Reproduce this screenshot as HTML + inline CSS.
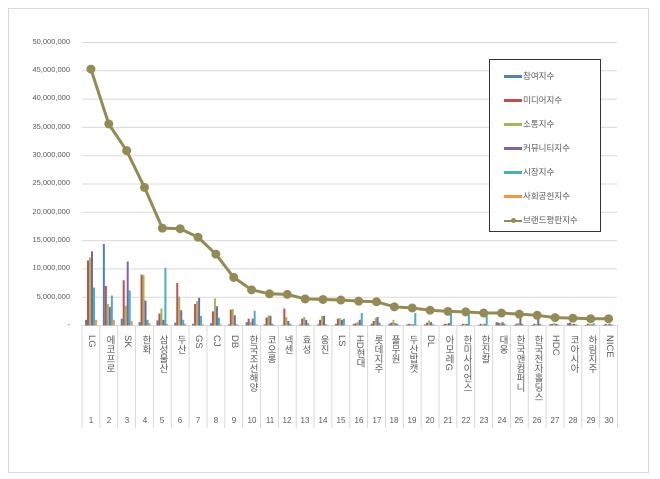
<!DOCTYPE html>
<html><head><meta charset="utf-8"><style>
body{margin:0;background:#fff;width:660px;height:479px;overflow:hidden;position:relative;font-family:"Liberation Sans","Noto Sans CJK KR",sans-serif;}
.fr{position:absolute;left:8px;top:8px;width:639px;height:463px;border:1px solid #d9d9d9;}
.yl{position:absolute;right:590px;font-size:7.5px;color:#595959;text-align:right;width:80px}
.cl{position:absolute;top:335px;width:18px;writing-mode:vertical-rl;text-orientation:mixed;font-size:9.5px;color:#595959;line-height:18px;text-align:left}
.nl{position:absolute;top:416px;width:18px;text-align:center;font-size:8px;color:#595959}
.lg{position:absolute;left:489px;top:59px;width:110px;height:171px;border:1px solid #333;background:#fff}
.li{position:absolute;left:14px;font-size:8.5px;color:#595959;height:12px;line-height:12px}
.li i{display:inline-block;width:18px;height:3px;vertical-align:middle;margin-right:1px}
</style></head><body>
<div class="fr"></div>
<svg width="660" height="479" style="position:absolute;left:0;top:0" id="s"></svg>
<div class="yl" style="top:37px">50,000,000</div>
<div class="yl" style="top:65px">45,000,000</div>
<div class="yl" style="top:93px">40,000,000</div>
<div class="yl" style="top:122px">35,000,000</div>
<div class="yl" style="top:150px">30,000,000</div>
<div class="yl" style="top:178px">25,000,000</div>
<div class="yl" style="top:207px">20,000,000</div>
<div class="yl" style="top:235px">15,000,000</div>
<div class="yl" style="top:263px">10,000,000</div>
<div class="yl" style="top:292px">5,000,000</div>
<div class="yl" style="top:320px">-</div>
<div class="cl" style="left:82px">LG</div>
<div class="cl" style="left:100px">에코프로</div>
<div class="cl" style="left:118px">SK</div>
<div class="cl" style="left:136px">한화</div>
<div class="cl" style="left:153px">삼성물산</div>
<div class="cl" style="left:171px">두산</div>
<div class="cl" style="left:189px">GS</div>
<div class="cl" style="left:207px">CJ</div>
<div class="cl" style="left:225px">DB</div>
<div class="cl" style="left:243px">한국조선해양</div>
<div class="cl" style="left:261px">코오롱</div>
<div class="cl" style="left:278px">넥센</div>
<div class="cl" style="left:296px">효성</div>
<div class="cl" style="left:314px">웅진</div>
<div class="cl" style="left:332px">LS</div>
<div class="cl" style="left:350px">HD현대</div>
<div class="cl" style="left:368px">롯데지주</div>
<div class="cl" style="left:385px">풀무원</div>
<div class="cl" style="left:403px">두산밥캣</div>
<div class="cl" style="left:421px">DL</div>
<div class="cl" style="left:439px">아모레G</div>
<div class="cl" style="left:457px">한미사이언스</div>
<div class="cl" style="left:475px">한진칼</div>
<div class="cl" style="left:493px">대웅</div>
<div class="cl" style="left:510px">한국앤컴퍼니</div>
<div class="cl" style="left:528px">한국전자홀딩스</div>
<div class="cl" style="left:546px">HDC</div>
<div class="cl" style="left:564px">코아시아</div>
<div class="cl" style="left:582px">하림지주</div>
<div class="cl" style="left:600px">NICE</div>
<div class="nl" style="left:82px">1</div><div class="nl" style="left:100px">2</div><div class="nl" style="left:118px">3</div><div class="nl" style="left:136px">4</div><div class="nl" style="left:153px">5</div><div class="nl" style="left:171px">6</div><div class="nl" style="left:189px">7</div><div class="nl" style="left:207px">8</div><div class="nl" style="left:225px">9</div><div class="nl" style="left:243px">10</div><div class="nl" style="left:261px">11</div><div class="nl" style="left:278px">12</div><div class="nl" style="left:296px">13</div><div class="nl" style="left:314px">14</div><div class="nl" style="left:332px">15</div><div class="nl" style="left:350px">16</div><div class="nl" style="left:368px">17</div><div class="nl" style="left:385px">18</div><div class="nl" style="left:403px">19</div><div class="nl" style="left:421px">20</div><div class="nl" style="left:439px">21</div><div class="nl" style="left:457px">22</div><div class="nl" style="left:475px">23</div><div class="nl" style="left:493px">24</div><div class="nl" style="left:510px">25</div><div class="nl" style="left:528px">26</div><div class="nl" style="left:546px">27</div><div class="nl" style="left:564px">28</div><div class="nl" style="left:582px">29</div><div class="nl" style="left:600px">30</div>
<div class="lg">
<div class="li" style="top:10px"><i style="background:#4F81BD"></i>참여지수</div>
<div class="li" style="top:34px"><i style="background:#C0504D"></i>미디어지수</div>
<div class="li" style="top:58px"><i style="background:#9BBB59"></i>소통지수</div>
<div class="li" style="top:82px"><i style="background:#8064A2"></i>커뮤니티지수</div>
<div class="li" style="top:106px"><i style="background:#4BACC6"></i>시장지수</div>
<div class="li" style="top:130px"><i style="background:#F79646"></i>사회공헌지수</div>
<div class="li" style="top:154px"><i style="background:#948A54;height:2px;position:relative"><b style="position:absolute;left:7px;top:-2px;width:5px;height:5px;border-radius:50%;background:#948A54"></b></i>브랜드평판지수</div>
</div>
<script>
var s=document.getElementById('s'),h='';
var x0=82,w=17.85,y0=325.5,k=28.3/5;
for(var g=0;g<=10;g++){var y=y0-g*28.3;if(g>0)h+='<line x1="'+x0+'" x2="617" y1="'+y+'" y2="'+y+'" stroke="#d9d9d9" stroke-width="1"/>';}
h+='<line x1="'+x0+'" x2="617" y1="'+y0+'" y2="'+y0+'" stroke="#d9d9d9"/>';
for(var i=0;i<=30;i++){var x=x0+i*w;h+='<line x1="'+x+'" x2="'+x+'" y1="'+y0+'" y2="428" stroke="#d9d9d9"/>';}
var B=[[1,11.5,12,13.1,6.7,1],[14.4,7,3.8,3.3,5.3,1],[1.2,8,3.5,11.3,6.2,0.8],[0.6,9,8.9,4.4,1,0.4],[0.9,2.1,3,1,10.2,0.3],[0.5,7.5,5.1,2.7,1,0.3],[0.3,3.8,4.3,4.9,1.7,0.2],[0.4,2.5,4.8,3.4,1.4,0.2],[0.2,2.8,2.9,1.8,0.2,0.1],[0.6,1.2,0.6,1.2,2.6,0.2],[0.2,1.4,1.8,1.7,0.3,0.1],[0.1,3,1.5,0.8,0.3,0.1],[0.2,1.2,1.5,1,0.4,0.1],[0.2,1,1.7,1.7,0.2,0.1],[0.3,1.2,1.3,1,1.2,0.1],[0.3,0.4,0.6,1,2.2,0.1],[0.3,0.8,1.3,1.5,0.5,0.1],[0.3,0.5,1,0.4,0.3,0.1],[0.2,0.3,0.3,0.2,2.2,0.1],[0.2,0.5,0.9,0.6,0.2,0.1],[0.1,0.3,0.3,0.4,2.1,0.1],[0.1,0.3,0.3,0.3,2,0.1],[0.1,0.3,0.2,0.3,2,0.1],[0.6,0.5,0.4,0.6,0.3,0.1],[0.1,0.3,0.4,1.4,0.3,0.1],[0.1,0.3,0.3,1.3,0.3,0.1],[0.2,0.3,0.4,0.3,0.2,0.1],[0.4,0.5,0.3,0.3,0.2,0.1],[0.1,0.3,0.3,0.2,0.4,0.1],[0.1,0.3,0.2,0.3,0.2,0.1]];
var C=['#4F81BD','#C0504D','#9BBB59','#8064A2','#4BACC6','#F79646'];
for(var i=0;i<30;i++)for(var j=0;j<6;j++){var v=B[i][j]*k,x=x0+i*w+3+j*2;h+='<rect x="'+x+'" y="'+(y0-v)+'" width="2" height="'+v+'" fill="'+C[j]+'"/>';}
var L=[45.3,35.6,30.9,24.4,17.2,17.1,15.6,12.6,8.5,6.3,5.6,5.5,4.7,4.6,4.5,4.3,4.2,3.3,3.1,2.7,2.5,2.4,2.2,2.2,2.0,1.8,1.4,1.3,1.2,1.2];
var p=L.map(function(v,i){return (x0+(i+0.5)*w)+','+(y0-v*k)}).join(' ');
h+='<polyline points="'+p+'" fill="none" stroke="#948A54" stroke-width="3"/>';
L.forEach(function(v,i){h+='<circle cx="'+(x0+(i+0.5)*w)+'" cy="'+(y0-v*k)+'" r="4.5" fill="#948A54"/>';});
s.innerHTML=h;
</script>
</body></html>
